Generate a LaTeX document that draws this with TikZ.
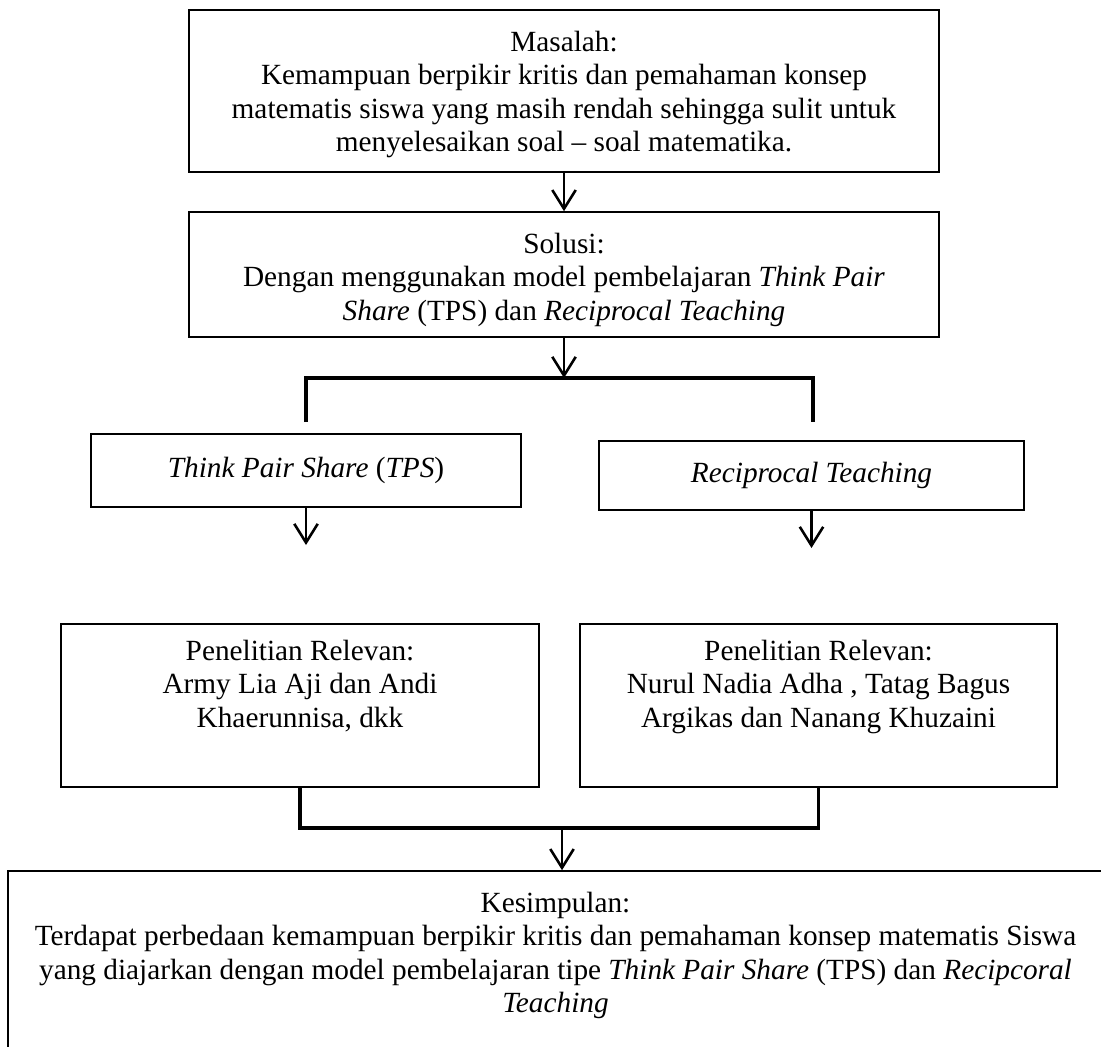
\documentclass[tikz,border=0pt]{standalone}
\usepackage{fontspec}
\setmainfont{Liberation Serif}
\usepackage{tikz}
\usetikzlibrary{arrows.meta,positioning}
\tikzset{
	>=Latex,
	box/.style={
		draw,
		line width=0.7pt,
		inner sep=0pt
	},
	txt/.style={
		align=center,
		inner sep=0pt,
		font=\fontsize{12.5}{14.3}\selectfont
	},
	conn/.style={
		-{Straight Barb[length=8pt,width=10pt,line width=1.1pt]},
		line width=1.1pt
	},
	bracket/.style={
		line width=1.4pt
	}
}
\begin{document}
\begin{tikzpicture}[x=0.015cm,y=-0.015cm]
	\useasboundingbox (0,0) rectangle (1101,1046);
	\clip (0,0) rectangle (1101,1046);
	
	% Masalah
	\node[box,minimum width=11.25cm,minimum height=2.43cm] (masalah) at (564,91) {};
	\node[txt,below=9pt of masalah.north] (tMasalah) {Masalah:\\
		Kemampuan berpikir kritis dan pemahaman konsep\\
		matematis siswa yang masih rendah sehingga sulit untuk\\
		menyelesaikan soal -- soal matematika.};
	
	% Solusi
	\node[box,minimum width=11.25cm,minimum height=1.875cm] (solusi) at (564,274.5) {};
	\node[txt,below=9pt of solusi.north] (tSolusi) {Solusi:\\
		Dengan menggunakan model pembelajaran \textit{Think Pair}\\
		\textit{Share} (TPS) dan \textit{Reciprocal Teaching}};
	
	% Model TPS dan Reciprocal Teaching
	\node[box,minimum width=6.45cm,minimum height=1.095cm] (tps) at (306,470.5) {};
	\node[txt] (tTps) at (tps) {\textit{Think Pair Share} (\textit{TPS})};
	\node[box,minimum width=6.375cm,minimum height=1.035cm] (rt) at (811.5,475.5) {};
	\node[txt] (tRt) at (rt) {\textit{Reciprocal Teaching}};
	
	% Penelitian relevan
	\node[box,minimum width=7.17cm,minimum height=2.445cm] (relA) at (300,705.5) {};
	\node[txt,below=7pt of relA.north] (tRelA) {Penelitian Relevan:\\
		Army Lia Aji dan Andi\\
		Khaerunnisa, dkk};
	\node[box,minimum width=7.155cm,minimum height=2.445cm] (relB) at (818.5,705.5) {};
	\node[txt,below=7pt of relB.north] (tRelB) {Penelitian Relevan:\\
		Nurul Nadia Adha , Tatag Bagus\\
		Argikas dan Nanang Khuzaini};
	
	% Kesimpulan
	\node[box,minimum width=16.425cm,minimum height=2.91cm] (simpulan) at (555.5,968) {};
	\node[txt,below=9pt of simpulan.north] (tSimpulan) {Kesimpulan:\\
		Terdapat perbedaan kemampuan berpikir kritis dan pemahaman konsep matematis Siswa\\
		yang diajarkan dengan model pembelajaran tipe \textit{Think Pair Share} (TPS) dan \textit{Recipcoral}\\
		\textit{Teaching}};
	
	% Connections
	\coordinate (b1) at (564,378);
	\coordinate (b1L) at (306,422);
	\coordinate (b1R) at (813,422);
	\coordinate (a1) at (306,545);
	\coordinate (a2) at (811.5,548);
	\coordinate (b2) at (562,828);
	
	\draw[conn] (masalah) -- (solusi);
	\draw[conn] (solusi) -- (b1);
	\draw[bracket] (b1L) |- (b1) -| (b1R);
	\draw[conn] (tps) -- (a1);
	\draw[conn] (rt) -- (a2);
	\draw[bracket] (relA.south) |- (b2) -| (relB.south);
	\draw[conn] (b2) -- (b2 |- simpulan.north);
	
\end{tikzpicture}
\end{document}
